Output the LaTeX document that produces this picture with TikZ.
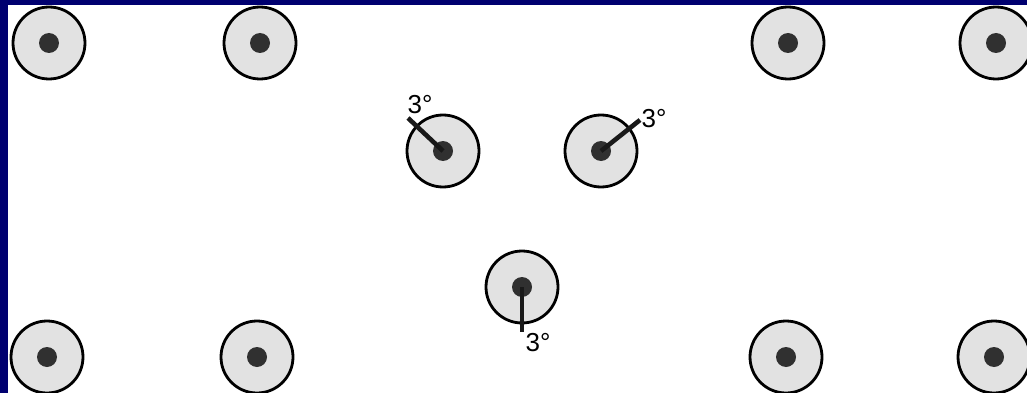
\documentclass[tikz,border=0pt]{standalone}
\usepackage{fontspec}
\setmainfont{Liberation Sans}
\definecolor{frame}{RGB}{0,0,112}
\definecolor{discgray}{RGB}{226,226,226}
\definecolor{coregray}{RGB}{48,48,48}

\begin{document}
\begin{tikzpicture}[x=1pt, y=-1pt,
	disc/.style={circle, draw=black, line width=2.8pt, fill=discgray, minimum size=72pt, inner sep=0pt},
	core/.style={circle, fill=coregray, minimum size=20pt, inner sep=0pt},
	tilt/.style={line width=4.6pt, color=black!90},
	every node/.style={font=\fontsize{26}{29}\selectfont}]
	\useasboundingbox (0,0) rectangle (1027,393);
	\fill[frame] (0,0) rectangle (1027,393);
	\fill[white] (8,5) rectangle (1027,393);
	\foreach \n/\x/\y in {a/49/43, b/260/43, c/788/43, d/996/43, e/47/357, f/257/357, g/786/357, h/994/357, l/443/151, r/601/151, m/522/287} {
		\node[disc] (\n) at (\x,\y) {};
		\node[core] (\n c) at (\n) {};
	}
	% tilted studs
	\coordinate (lend) at (408,118);
	\coordinate (rend) at (640,120);
	\coordinate (mend) at (522,332);
	\draw[tilt] (lc.center) -- (lend);
	\draw[tilt] (rc.center) -- (rend);
	\draw[tilt] (mc.center) -- (mend);
	\node[inner sep=0pt] (llab) at (420,105) {3°};
	\node[inner sep=0pt] (rlab) at (654,119) {3°};
	\node[inner sep=0pt] (mlab) at (538,343) {3°};
\end{tikzpicture}
\end{document}
